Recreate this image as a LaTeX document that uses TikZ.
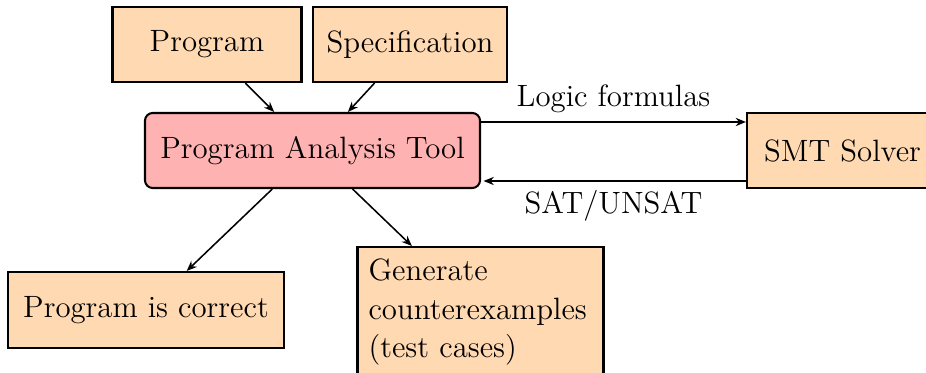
\documentclass[tikz,border=0pt]{standalone}
\usetikzlibrary{arrows.meta}
\def\pxu{0.3891pt}
\begin{document}
\begin{tikzpicture}[x=0.3891pt, y=-0.3891pt,
  box/.style={draw, thick, fill=orange!30, inner sep=0pt, font=\large},
  patbox/.style={draw, thick, fill=red!30, rounded corners=3pt, inner sep=0pt, font=\large},
  arr/.style={semithick, -{Stealth[length=4pt,width=3.2pt]}},
  lbl/.style={font=\large}]
\useasboundingbox (0,0) rectangle (926,373);
\node[box, minimum width=189*\pxu, minimum height=75*\pxu] (prog) at (207,44.5) {Program};
\node[box, minimum width=194*\pxu, minimum height=75*\pxu] (spec) at (410,44.5) {Specification};
\node[patbox, minimum width=335*\pxu, minimum height=75*\pxu] (pat) at (312.5,150.5) {Program Analysis Tool};
\node[box, minimum width=191*\pxu, minimum height=75*\pxu] (smt) at (842.5,150.5) {SMT Solver};
\node[box, minimum width=276*\pxu, minimum height=76*\pxu] (ok) at (146,310) {Program is correct};
\node[box, anchor=north, text width=224*\pxu, inner xsep=11*\pxu, align=left, minimum height=130*\pxu,
      font=\fontsize{12}{14.8}\selectfont] (gen) at (480.5,246) {Generate\\counterexamples\\(test cases)};
\draw[arr] (prog) -- (pat);
\draw[arr] (spec) -- (pat);
\draw[arr] (pat) -- (ok);
\draw[arr] (pat) -- (gen);
\draw[arr] (pat.east |- 0,122) -- node[above, lbl] {Logic formulas} (smt.west |- 0,122);
\draw[arr, shorten >=1pt] (smt.west |- 0,181) -- node[below, lbl] {SAT/UNSAT} (pat.east |- 0,181);
\end{tikzpicture}
\end{document}
